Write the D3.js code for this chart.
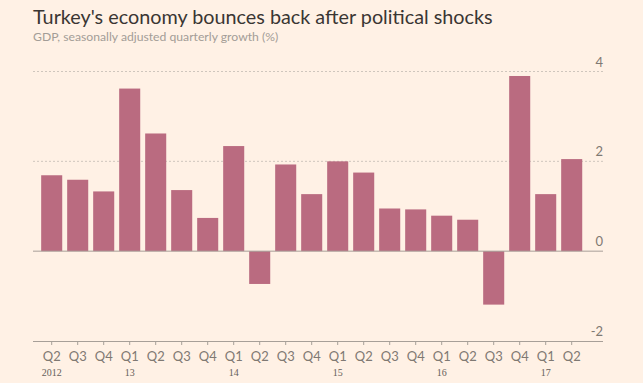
<!DOCTYPE html>
<html><head><meta charset="utf-8">
<script src="https://cdn.jsdelivr.net/npm/d3@7"></script>
<style>
html,body{margin:0;padding:0;background:#fff1e5;}
svg{display:block;}
</style></head>
<body>
<script>
const quarters = ["Q2","Q3","Q4","Q1","Q2","Q3","Q4","Q1","Q2","Q3","Q4","Q1","Q2","Q3","Q4","Q1","Q2","Q3","Q4","Q1","Q2"];
const years = ["2012","","","13","","","","14","","","","15","","","","16","","","","17",""];
const growth = [1.69,1.59,1.33,3.62,2.62,1.36,0.74,2.34,-0.73,1.93,1.27,2.0,1.75,0.95,0.93,0.79,0.70,-1.19,3.90,1.27,2.05];
const yTicks = [-2,0,2,4];
const title = "Turkey's economy bounces back after political shocks";
const subtitle = "GDP, seasonally adjusted quarterly growth (%)";

const W = 643, H = 383;
const svg = d3.select("body").append("svg").attr("width", W).attr("height", H);
svg.append("rect").attr("width", W).attr("height", H).attr("fill", "#fff1e5");

const left = 33, right = 603;
const ids = growth.map((d,i)=>i);
const x = d3.scaleBand().domain(ids).range([38.7, 584.7]).paddingInner(0.19).paddingOuter(0.095);
const y = d3.scaleLinear().domain([-2, 4]).range([341, 71.5]);

svg.append("text").attr("x", left).attr("y", 24).text(title)
  .attr("font-family", "Lato, 'Open Sans', sans-serif").attr("font-size", 19.8).attr("fill", "#3a3633");
svg.append("text").attr("x", left).attr("y", 40.5).text(subtitle)
  .attr("font-family", "Lato, 'Open Sans', sans-serif").attr("font-size", 12.2).attr("fill", "#a39d97");

// gridlines
svg.append("g").selectAll("line").data(yTicks.filter(t=>t>0)).join("line")
  .attr("x1", left).attr("x2", right).attr("y1", d=>y(d)).attr("y2", d=>y(d))
  .attr("stroke", "#cfc6bd").attr("stroke-dasharray", "2,2").attr("stroke-width", 1);

// y labels
svg.append("g").selectAll("text").data(yTicks).join("text")
  .attr("x", right).attr("y", d=>y(d)-5).attr("text-anchor", "end").text(d=>d)
  .attr("font-family", "Lato, 'Open Sans', sans-serif").attr("font-size", 13).attr("fill", "#7f7973");

// bars
svg.append("g").selectAll("rect").data(growth).join("rect")
  .attr("x", (d,i)=>x(i)).attr("width", x.bandwidth())
  .attr("y", d=>y(Math.max(0,d))).attr("height", d=>Math.abs(y(d)-y(0)))
  .attr("fill", "#ba6b80");

// zero line
svg.append("line").attr("x1", left).attr("x2", right).attr("y1", y(0)).attr("y2", y(0))
  .attr("stroke", "#a79f98").attr("stroke-width", 1);

// bottom axis
const xAxis = d3.axisBottom(x).tickSize(4).tickSizeOuter(0).tickFormat(i=>quarters[i]);
const gx = svg.append("g").attr("transform", `translate(0,${y(-2)})`).call(xAxis);
gx.select(".domain").attr("d", `M${left},0.5H${right}`).attr("stroke", "#a79f98");
gx.selectAll(".tick line").attr("stroke", "#a79f98");
gx.selectAll(".tick text").attr("dy", 0).attr("y", 20)
  .attr("font-family", "Lato, 'Open Sans', sans-serif").attr("font-size", 13).attr("fill", "#7f7973");

svg.append("g").selectAll("text").data(ids.filter(i=>years[i])).join("text")
  .attr("x", i=>x(i)+x.bandwidth()/2).attr("y", 375.5).attr("text-anchor", "middle").text(i=>years[i])
  .attr("font-family", "'Liberation Serif', 'DejaVu Serif', serif").attr("font-size", 10).attr("fill", "#66605a");
</script>
</body></html>
